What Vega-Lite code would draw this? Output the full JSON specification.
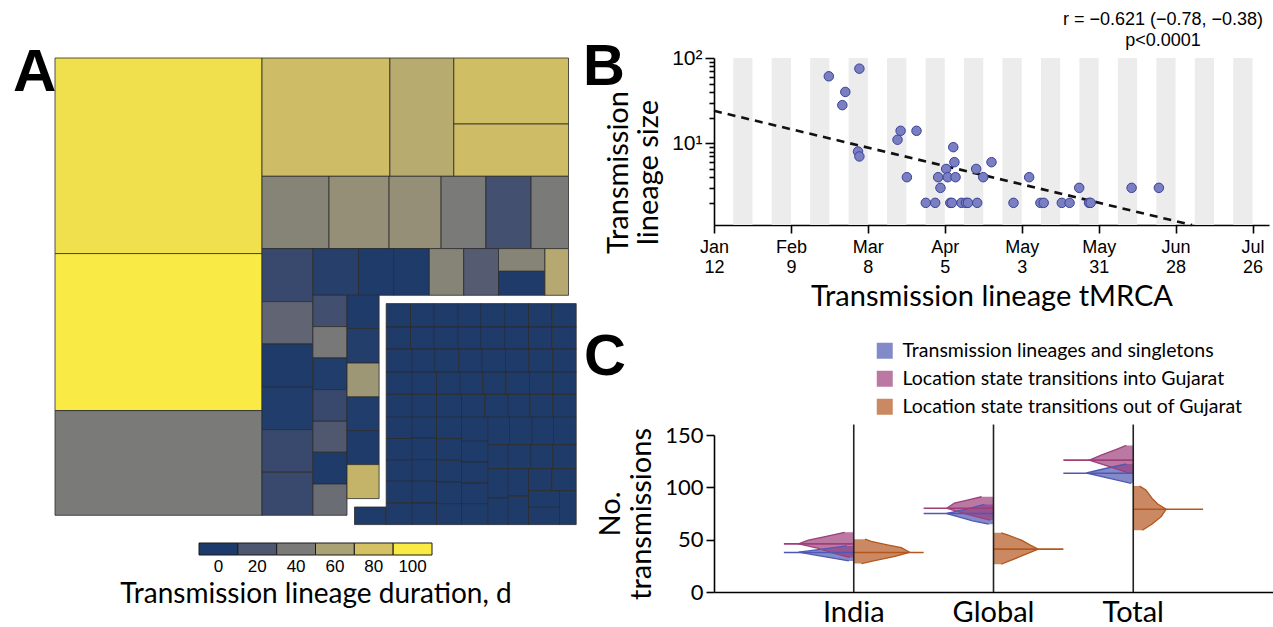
{
  "$schema": "https://vega.github.io/schema/vega-lite/v6.json",
  "background": "white",
  "padding": {"left": 13, "top": 11, "right": 0, "bottom": 0},
  "config": {
    "view": {"stroke": null},
    "font": "Lato",
    "axis": {"domainColor": "#000", "tickColor": "#000", "labelColor": "#000", "titleColor": "#000", "titleFontWeight": "normal", "grid": false, "domainWidth": 1.6, "tickWidth": 1.6},
    "title": {"color": "#000"},
    "legend": {"labelColor": "#000"}
  },
  "datasets": {
    "tm": [
      {"x0":0,"x1":207,"y0":0,"y1":195.6,"d":95},
      {"x0":0,"x1":207,"y0":195.6,"y1":352.6,"d":100},
      {"x0":0,"x1":207,"y0":352.6,"y1":457.3,"d":40},
      {"x0":207,"x1":334.9,"y0":0,"y1":118.3,"d":77},
      {"x0":334.9,"x1":398.8,"y0":0,"y1":118.3,"d":66},
      {"x0":398.8,"x1":513.5,"y0":0,"y1":66,"d":78},
      {"x0":398.8,"x1":513.5,"y0":66,"y1":118.3,"d":77},
      {"x0":207,"x1":274,"y0":118.3,"y1":190.6,"d":45},
      {"x0":274,"x1":334.1,"y0":118.3,"y1":190.6,"d":51},
      {"x0":334.1,"x1":386.1,"y0":118.3,"y1":190.6,"d":51},
      {"x0":386.1,"x1":430.9,"y0":118.3,"y1":190.6,"d":40},
      {"x0":430.9,"x1":476.1,"y0":118.3,"y1":190.6,"d":16},
      {"x0":476.1,"x1":513.5,"y0":118.3,"y1":190.6,"d":40},
      {"x0":207,"x1":257.9,"y0":190.6,"y1":243.6,"d":11},
      {"x0":257.9,"x1":303.5,"y0":190.6,"y1":237.3,"d":4},
      {"x0":303.5,"x1":338.7,"y0":190.6,"y1":237.3,"d":1},
      {"x0":338.7,"x1":374.3,"y0":190.6,"y1":237.3,"d":1},
      {"x0":374.3,"x1":408.7,"y0":190.6,"y1":237.3,"d":45},
      {"x0":408.7,"x1":443.5,"y0":190.6,"y1":237.3,"d":23},
      {"x0":443.5,"x1":489.9,"y0":190.6,"y1":213.3,"d":45},
      {"x0":443.5,"x1":489.9,"y0":213.3,"y1":237.3,"d":1},
      {"x0":489.9,"x1":513.5,"y0":190.6,"y1":237.3,"d":65},
      {"x0":207,"x1":257.9,"y0":243.6,"y1":286,"d":28},
      {"x0":207,"x1":257.9,"y0":286,"y1":329.3,"d":1},
      {"x0":207,"x1":257.9,"y0":329.3,"y1":371.6,"d":2},
      {"x0":207,"x1":257.9,"y0":371.6,"y1":414.3,"d":11},
      {"x0":207,"x1":257.9,"y0":414.3,"y1":457.3,"d":11},
      {"x0":257.9,"x1":292,"y0":237.3,"y1":268.6,"d":15},
      {"x0":257.9,"x1":292,"y0":268.6,"y1":300,"d":39},
      {"x0":257.9,"x1":292,"y0":300,"y1":331.6,"d":2},
      {"x0":257.9,"x1":292,"y0":331.6,"y1":363.3,"d":11},
      {"x0":257.9,"x1":292,"y0":363.3,"y1":394.3,"d":21},
      {"x0":257.9,"x1":292,"y0":394.3,"y1":426,"d":1},
      {"x0":257.9,"x1":292,"y0":426,"y1":457.3,"d":33},
      {"x0":292,"x1":324.1,"y0":237.3,"y1":270.6,"d":1},
      {"x0":292,"x1":324.1,"y0":270.6,"y1":305,"d":3},
      {"x0":292,"x1":324.1,"y0":305,"y1":339,"d":55},
      {"x0":292,"x1":324.1,"y0":339,"y1":372.6,"d":2},
      {"x0":292,"x1":324.1,"y0":372.6,"y1":406.6,"d":1},
      {"x0":292,"x1":324.1,"y0":406.6,"y1":440.6,"d":72},
      {"x0":299.5,"x1":331.2,"y0":449,"y1":466.6,"d":1},
      {"x0":331.2,"x1":355.5,"y0":245.6,"y1":269,"d":1},
      {"x0":355.5,"x1":378.8,"y0":245.6,"y1":269,"d":1},
      {"x0":378.8,"x1":402.8,"y0":245.6,"y1":269,"d":1},
      {"x0":402.8,"x1":426.2,"y0":245.6,"y1":269,"d":1},
      {"x0":426.2,"x1":450.2,"y0":245.6,"y1":269,"d":1},
      {"x0":450.2,"x1":473.5,"y0":245.6,"y1":269,"d":1},
      {"x0":473.5,"x1":497.2,"y0":245.6,"y1":269,"d":1},
      {"x0":497.2,"x1":521.2,"y0":245.6,"y1":269,"d":1},
      {"x0":331.2,"x1":355.5,"y0":269,"y1":291,"d":1},
      {"x0":355.5,"x1":378.8,"y0":269,"y1":291,"d":1},
      {"x0":378.8,"x1":402.8,"y0":269,"y1":291,"d":1},
      {"x0":402.8,"x1":426.2,"y0":269,"y1":291,"d":1},
      {"x0":426.2,"x1":450.2,"y0":269,"y1":291,"d":1},
      {"x0":450.2,"x1":473.5,"y0":269,"y1":291,"d":1},
      {"x0":473.5,"x1":497.2,"y0":269,"y1":291,"d":1},
      {"x0":497.2,"x1":521.2,"y0":269,"y1":291,"d":1},
      {"x0":331.2,"x1":356.8,"y0":291,"y1":314,"d":1},
      {"x0":356.8,"x1":380.2,"y0":291,"y1":314,"d":1},
      {"x0":380.2,"x1":403.8,"y0":291,"y1":314,"d":1},
      {"x0":403.8,"x1":426.8,"y0":291,"y1":314,"d":1},
      {"x0":426.8,"x1":450.5,"y0":291,"y1":314,"d":1},
      {"x0":450.5,"x1":473.8,"y0":291,"y1":314,"d":1},
      {"x0":473.8,"x1":497.8,"y0":291,"y1":314,"d":1},
      {"x0":497.8,"x1":521.2,"y0":291,"y1":314,"d":1},
      {"x0":331.2,"x1":356.8,"y0":314,"y1":336.4,"d":1},
      {"x0":356.8,"x1":381.5,"y0":314,"y1":336.4,"d":1},
      {"x0":381.5,"x1":404.8,"y0":314,"y1":336.4,"d":1},
      {"x0":404.8,"x1":427.8,"y0":314,"y1":336.4,"d":1},
      {"x0":427.8,"x1":451.2,"y0":314,"y1":336.4,"d":1},
      {"x0":451.2,"x1":474.5,"y0":314,"y1":336.4,"d":1},
      {"x0":474.5,"x1":497.8,"y0":314,"y1":336.4,"d":1},
      {"x0":497.8,"x1":521.2,"y0":314,"y1":336.4,"d":1},
      {"x0":331.2,"x1":356.8,"y0":336.4,"y1":359.3,"d":1},
      {"x0":356.8,"x1":381.5,"y0":336.4,"y1":359.3,"d":1},
      {"x0":381.5,"x1":406.5,"y0":336.4,"y1":359.3,"d":1},
      {"x0":406.5,"x1":429.8,"y0":336.4,"y1":359.3,"d":1},
      {"x0":429.8,"x1":452.8,"y0":336.4,"y1":359.3,"d":1},
      {"x0":452.8,"x1":475.2,"y0":336.4,"y1":359.3,"d":1},
      {"x0":475.2,"x1":497.8,"y0":336.4,"y1":359.3,"d":1},
      {"x0":497.8,"x1":521.2,"y0":336.4,"y1":359.3,"d":1},
      {"x0":331.2,"x1":356.8,"y0":359.3,"y1":380.5,"d":1},
      {"x0":331.2,"x1":356.8,"y0":380.5,"y1":401.9,"d":1},
      {"x0":331.2,"x1":356.8,"y0":401.9,"y1":423.3,"d":1},
      {"x0":331.2,"x1":356.8,"y0":423.3,"y1":444.8,"d":1},
      {"x0":331.2,"x1":356.8,"y0":444.8,"y1":466.6,"d":1},
      {"x0":356.8,"x1":381.5,"y0":359.3,"y1":380,"d":1},
      {"x0":356.8,"x1":381.5,"y0":380,"y1":401.6,"d":1},
      {"x0":356.8,"x1":381.5,"y0":401.6,"y1":423.3,"d":1},
      {"x0":356.8,"x1":381.5,"y0":423.3,"y1":445,"d":1},
      {"x0":356.8,"x1":381.5,"y0":445,"y1":466.6,"d":1},
      {"x0":381.5,"x1":406.5,"y0":359.3,"y1":380.6,"d":1},
      {"x0":381.5,"x1":406.5,"y0":380.6,"y1":402.3,"d":1},
      {"x0":381.5,"x1":406.5,"y0":402.3,"y1":424,"d":1},
      {"x0":381.5,"x1":406.5,"y0":424,"y1":445.6,"d":1},
      {"x0":381.5,"x1":406.5,"y0":445.6,"y1":466.6,"d":1},
      {"x0":406.5,"x1":432.8,"y0":359.3,"y1":383.3,"d":1},
      {"x0":406.5,"x1":432.8,"y0":383.3,"y1":404,"d":1},
      {"x0":406.5,"x1":432.8,"y0":404,"y1":425,"d":1},
      {"x0":406.5,"x1":432.8,"y0":425,"y1":445.6,"d":1},
      {"x0":406.5,"x1":432.8,"y0":445.6,"y1":466.6,"d":1},
      {"x0":432.8,"x1":454.5,"y0":359.3,"y1":386.6,"d":1},
      {"x0":454.5,"x1":476.8,"y0":359.3,"y1":386.6,"d":1},
      {"x0":476.8,"x1":498.5,"y0":359.3,"y1":386.6,"d":1},
      {"x0":498.5,"x1":521.2,"y0":359.3,"y1":386.6,"d":1},
      {"x0":432.8,"x1":452.8,"y0":386.6,"y1":410.6,"d":1},
      {"x0":452.8,"x1":476.2,"y0":386.6,"y1":410.6,"d":1},
      {"x0":476.2,"x1":497.8,"y0":386.6,"y1":410.6,"d":1},
      {"x0":497.8,"x1":521.2,"y0":386.6,"y1":410.6,"d":1},
      {"x0":432.8,"x1":452.8,"y0":410.6,"y1":440,"d":1},
      {"x0":432.8,"x1":452.8,"y0":440,"y1":466.6,"d":1},
      {"x0":452.8,"x1":473.5,"y0":410.6,"y1":438.3,"d":1},
      {"x0":452.8,"x1":473.5,"y0":438.3,"y1":466.6,"d":1},
      {"x0":473.5,"x1":497.2,"y0":410.6,"y1":432.6,"d":1},
      {"x0":497.2,"x1":521.2,"y0":410.6,"y1":432.6,"d":1},
      {"x0":473.5,"x1":504.5,"y0":432.6,"y1":449.3,"d":1},
      {"x0":473.5,"x1":504.5,"y0":449.3,"y1":466.6,"d":1},
      {"x0":504.5,"x1":521.2,"y0":432.6,"y1":466.6,"d":1}
    ],
    "bar": [{"d":0},{"d":20},{"d":40},{"d":60},{"d":80},{"d":100}],
    "stripes": [
      {"a":"2020-01-19","b":"2020-01-26"},{"a":"2020-02-02","b":"2020-02-09"},
      {"a":"2020-02-16","b":"2020-02-23"},{"a":"2020-03-01","b":"2020-03-08"},
      {"a":"2020-03-15","b":"2020-03-22"},{"a":"2020-03-29","b":"2020-04-05"},
      {"a":"2020-04-12","b":"2020-04-19"},{"a":"2020-04-26","b":"2020-05-03"},
      {"a":"2020-05-10","b":"2020-05-17"},{"a":"2020-05-24","b":"2020-05-31"},
      {"a":"2020-06-07","b":"2020-06-14"},{"a":"2020-06-21","b":"2020-06-28"},
      {"a":"2020-07-05","b":"2020-07-12"},{"a":"2020-07-19","b":"2020-07-26"}
    ],
    "fit": [{"t":"2020-01-12","v":24},{"t":"2020-07-04","v":1.1}],
    "pts": [
      {"t":"2020-02-22T19:00:00Z","v":61},
      {"t":"2020-03-04T22:00:00Z","v":75},
      {"t":"2020-02-28T19:00:00Z","v":40},
      {"t":"2020-02-27T17:00:00Z","v":28},
      {"t":"2020-03-04T10:00:00Z","v":8},
      {"t":"2020-03-04T22:00:00Z","v":7},
      {"t":"2020-03-18T19:00:00Z","v":11},
      {"t":"2020-03-19T22:00:00Z","v":14},
      {"t":"2020-03-25T17:00:00Z","v":14},
      {"t":"2020-03-22T05:00:00Z","v":4},
      {"t":"2020-03-29T02:00:00Z","v":2},
      {"t":"2020-04-01T12:00:00Z","v":2},
      {"t":"2020-04-02T14:00:00Z","v":4},
      {"t":"2020-04-03T10:00:00Z","v":3},
      {"t":"2020-04-05T12:00:00Z","v":5},
      {"t":"2020-04-06T02:00:00Z","v":4},
      {"t":"2020-04-07T00:00:00Z","v":2},
      {"t":"2020-04-07T14:00:00Z","v":2},
      {"t":"2020-04-08T02:00:00Z","v":9},
      {"t":"2020-04-08T12:00:00Z","v":6},
      {"t":"2020-04-08T22:00:00Z","v":4},
      {"t":"2020-04-11T02:00:00Z","v":2},
      {"t":"2020-04-12T17:00:00Z","v":2},
      {"t":"2020-04-13T10:00:00Z","v":2},
      {"t":"2020-04-16T10:00:00Z","v":5},
      {"t":"2020-04-16T19:00:00Z","v":2},
      {"t":"2020-04-19T00:00:00Z","v":4},
      {"t":"2020-04-22T00:00:00Z","v":6},
      {"t":"2020-04-30T00:00:00Z","v":2},
      {"t":"2020-05-05T17:00:00Z","v":4},
      {"t":"2020-05-09T19:00:00Z","v":2},
      {"t":"2020-05-11T00:00:00Z","v":2},
      {"t":"2020-05-17T14:00:00Z","v":2},
      {"t":"2020-05-20T10:00:00Z","v":2},
      {"t":"2020-05-23T22:00:00Z","v":3},
      {"t":"2020-05-27T12:00:00Z","v":2},
      {"t":"2020-05-28T02:00:00Z","v":2},
      {"t":"2020-06-12T00:00:00Z","v":3},
      {"t":"2020-06-21T22:00:00Z","v":3}
    ],
    "vl": [
      {"c":"India","s":"lin","n":29.7,"w":0.07},{"c":"India","s":"lin","n":33,"w":0.36},{"c":"India","s":"lin","n":35,"w":0.53},{"c":"India","s":"lin","n":38,"w":0.79},{"c":"India","s":"lin","n":41,"w":0.45},{"c":"India","s":"lin","n":44,"w":0.1},
      {"c":"India","s":"in","n":33,"w":0.06},{"c":"India","s":"in","n":37,"w":0.28},{"c":"India","s":"in","n":42,"w":0.52},{"c":"India","s":"in","n":46,"w":0.79},{"c":"India","s":"in","n":49.5,"w":0.65},{"c":"India","s":"in","n":53,"w":0.41},{"c":"India","s":"in","n":57,"w":0.13},
      {"c":"Global","s":"lin","n":64.8,"w":0.07},{"c":"Global","s":"lin","n":68,"w":0.3},{"c":"Global","s":"lin","n":71.8,"w":0.5},{"c":"Global","s":"lin","n":75,"w":0.67},{"c":"Global","s":"lin","n":79,"w":0.4},{"c":"Global","s":"lin","n":83.7,"w":0.13},
      {"c":"Global","s":"in","n":68.7,"w":0.05},{"c":"Global","s":"in","n":74,"w":0.36},{"c":"Global","s":"in","n":80,"w":0.67},{"c":"Global","s":"in","n":85,"w":0.56},{"c":"Global","s":"in","n":88,"w":0.36},{"c":"Global","s":"in","n":91,"w":0.17},
      {"c":"Total","s":"lin","n":103.8,"w":0.03},{"c":"Total","s":"lin","n":108.6,"w":0.34},{"c":"Total","s":"lin","n":113.7,"w":0.67},{"c":"Total","s":"lin","n":118,"w":0.4},{"c":"Total","s":"lin","n":122.3,"w":0.1},
      {"c":"Total","s":"in","n":113.4,"w":0.05},{"c":"Total","s":"in","n":120,"w":0.35},{"c":"Total","s":"in","n":126,"w":0.63},{"c":"Total","s":"in","n":131,"w":0.45},{"c":"Total","s":"in","n":136,"w":0.25},{"c":"Total","s":"in","n":140,"w":0.1}
    ],
    "vr": [
      {"c":"India","s":"out","n":27.2,"w":0.11},{"c":"India","s":"out","n":30,"w":0.3},{"c":"India","s":"out","n":34,"w":0.59},{"c":"India","s":"out","n":38,"w":0.8},{"c":"India","s":"out","n":42.4,"w":0.68},{"c":"India","s":"out","n":45,"w":0.48},{"c":"India","s":"out","n":48.3,"w":0.25},{"c":"India","s":"out","n":50.5,"w":0.16},
      {"c":"Global","s":"out","n":26.5,"w":0.11},{"c":"Global","s":"out","n":33,"w":0.35},{"c":"Global","s":"out","n":41,"w":0.64},{"c":"Global","s":"out","n":45,"w":0.52},{"c":"Global","s":"out","n":49.5,"w":0.4},{"c":"Global","s":"out","n":54.3,"w":0.21},{"c":"Global","s":"out","n":56.5,"w":0.11},
      {"c":"Total","s":"out","n":59,"w":0.13},{"c":"Total","s":"out","n":65,"w":0.27},{"c":"Total","s":"out","n":72,"w":0.4},{"c":"Total","s":"out","n":79,"w":0.47},{"c":"Total","s":"out","n":84,"w":0.35},{"c":"Total","s":"out","n":89.4,"w":0.27},{"c":"Total","s":"out","n":97.4,"w":0.18},{"c":"Total","s":"out","n":101.2,"w":0.09}
    ],
    "ml": [
      {"c":"India","s":"lin","n":37.7},{"c":"India","s":"in","n":46},
      {"c":"Global","s":"lin","n":75},{"c":"Global","s":"in","n":80},
      {"c":"Total","s":"lin","n":113.5},{"c":"Total","s":"in","n":126}
    ],
    "mr": [
      {"c":"India","s":"out","n":37.7},{"c":"Global","s":"out","n":41},{"c":"Total","s":"out","n":79}
    ],
    "cats": [{"c":"India"},{"c":"Global"},{"c":"Total"}]
  },
  "title": {"text": "r = \u22120.621 (\u22120.78, \u22120.38)", "subtitle": "p<0.0001", "anchor": "end", "align": "center", "frame": "bounds", "font": "Liberation Sans", "fontSize": 18, "fontWeight": "normal", "subtitleFont": "Liberation Sans", "subtitleFontSize": 18, "subtitleColor": "#000", "subtitlePadding": 3, "offset": -11, "dx": -110},
  "resolve": {"scale": {"color": "independent"}, "legend": {"color": "independent"}},
  "spacing": 6,
  "hconcat": [
    {
      "title": {"text": "A", "anchor": "start", "frame": "group", "font": "Liberation Sans", "fontSize": 60, "fontWeight": "bold", "baseline": "alphabetic", "offset": -93, "dx": -42},
      "bounds": "flush",
      "spacing": 18,
      "center": true,
      "vconcat": [
        {
          "width": 521,
          "height": 467,
          "data": {"name": "tm"},
          "mark": {"type": "rect", "stroke": "#2b2b2b", "strokeWidth": 0.8},
          "encoding": {
            "x": {"field": "x0", "type": "quantitative", "scale": {"domain": [0, 521], "nice": false, "zero": false}, "axis": null},
            "x2": {"field": "x1"},
            "y": {"field": "y0", "type": "quantitative", "scale": {"domain": [0, 467], "nice": false, "reverse": true}, "axis": null},
            "y2": {"field": "y1"},
            "fill": {"field": "d", "type": "quantitative", "scale": {"domain": [0, 20, 40, 60, 80, 100], "range": ["#1c3a6a", "#4e5670", "#7a7a78", "#aaa175", "#d4c163", "#f9ea45"], "interpolate": "rgb"}, "legend": null}
          }
        },
        {
          "width": 233,
          "height": 12,
          "data": {"name": "bar"},
          "mark": {"type": "rect", "stroke": "#1a1a1a", "strokeWidth": 1},
          "encoding": {
            "x": {"field": "d", "type": "ordinal", "scale": {"paddingInner": 0, "paddingOuter": 0}, "axis": {"title": "Transmission lineage duration, d", "titleFont": "Lato", "titleFontSize": 28, "titlePadding": 6, "labelFont": "Liberation Sans", "labelFontSize": 17, "labelAngle": 0, "ticks": false, "domain": false, "labelPadding": 3}},
            "fill": {"field": "d", "type": "quantitative", "scale": {"domain": [0, 20, 40, 60, 80, 100], "range": ["#1c3a6a", "#4e5670", "#7a7a78", "#aaa175", "#d4c163", "#f9ea45"], "interpolate": "rgb"}, "legend": null}
          }
        }
      ]
    },
    {
      "bounds": "flush",
      "spacing": 210,
      "resolve": {"scale": {"color": "independent"}, "legend": {"color": "independent"}},
      "vconcat": [
        {
          "width": 555,
          "height": 167,
          "title": {"text": "B", "anchor": "start", "frame": "group", "font": "Liberation Sans", "fontSize": 58, "fontWeight": "bold", "baseline": "alphabetic", "offset": -96, "dx": -131},
          "layer": [
            {
              "data": {"name": "stripes"},
              "mark": {"type": "rect", "color": "#ececec"},
              "encoding": {
                "x": {"field": "a", "type": "temporal", "scale": {"type": "utc", "domain": [{"year": 2020, "month": 1, "date": 12, "utc": true}, {"year": 2020, "month": 8, "date": 1, "utc": true}], "nice": false},
                  "axis": {
                    "values": [
                      {"year": 2020, "month": 1, "date": 12, "utc": true}, {"year": 2020, "month": 1, "date": 26, "utc": true},
                      {"year": 2020, "month": 2, "date": 9, "utc": true}, {"year": 2020, "month": 2, "date": 23, "utc": true},
                      {"year": 2020, "month": 3, "date": 8, "utc": true}, {"year": 2020, "month": 3, "date": 22, "utc": true},
                      {"year": 2020, "month": 4, "date": 5, "utc": true}, {"year": 2020, "month": 4, "date": 19, "utc": true},
                      {"year": 2020, "month": 5, "date": 3, "utc": true}, {"year": 2020, "month": 5, "date": 17, "utc": true},
                      {"year": 2020, "month": 5, "date": 31, "utc": true}, {"year": 2020, "month": 6, "date": 14, "utc": true},
                      {"year": 2020, "month": 6, "date": 28, "utc": true}, {"year": 2020, "month": 7, "date": 12, "utc": true},
                      {"year": 2020, "month": 7, "date": 26, "utc": true}
                    ],
                    "labelExpr": "[utcFormat(datum.value, '%b'), utcFormat(datum.value, '%-d')]",
                    "labelFont": "Liberation Sans", "labelFontSize": 18, "labelLineHeight": 20, "labelPadding": 5,
                    "labelOverlap": false, "labelFlush": false, "labelBound": false,
                    "tickSize": 8,
                    "title": "Transmission lineage tMRCA", "titleFont": "Lato", "titleFontSize": 29, "titlePadding": 6
                  }
                },
                "x2": {"field": "b"}
              }
            },
            {
              "data": {"name": "fit"},
              "mark": {"type": "line", "color": "#111111", "strokeDash": [8, 6], "strokeWidth": 2.6},
              "encoding": {
                "x": {"field": "t", "type": "temporal"},
                "y": {"field": "v", "type": "quantitative", "scale": {"type": "log", "domain": [1.1, 100], "nice": false},
                  "axis": {
                    "values": [2, 3, 4, 5, 6, 7, 8, 9, 10, 20, 30, 40, 50, 60, 70, 80, 90, 100],
                    "labelExpr": "datum.value == 100 ? '10\u00b2' : datum.value == 10 ? '10\u00b9' : ''",
                    "tickSize": {"condition": {"test": "datum.value == 10 || datum.value == 100", "value": 9}, "value": 5},
                    "labelFont": "Liberation Sans", "labelFontSize": 21, "labelPadding": 3, "labelOverlap": false,
                    "title": ["Transmission", "lineage size"], "titleFont": "Lato", "titleFontSize": 29, "titleLineHeight": 30, "titlePadding": 8, "titleY": 114
                  }
                }
              }
            },
            {
              "data": {"name": "pts"},
              "mark": {"type": "point", "filled": true, "fill": "#7a7fc1", "stroke": "#3b429a", "strokeWidth": 1, "size": 90, "opacity": 1, "fillOpacity": 1},
              "encoding": {
                "x": {"field": "t", "type": "temporal"},
                "y": {"field": "v", "type": "quantitative"}
              }
            }
          ]
        },
        {
          "width": 559,
          "height": 157,
          "title": {"text": "C", "anchor": "start", "frame": "group", "font": "Liberation Sans", "fontSize": 58, "fontWeight": "bold", "baseline": "alphabetic", "offset": -92, "dx": -130},
          "resolve": {"scale": {"xOffset": "independent"}},
          "layer": [
            {
              "data": {"name": "vl"},
              "encoding": {
                "x": {"field": "c", "type": "nominal", "scale": {"domain": ["India", "Global", "Total"], "paddingInner": 0, "paddingOuter": 0.5},
                  "axis": {"title": null, "ticks": false, "labelAngle": 0, "labelFont": "Lato", "labelFontSize": 29, "labelPadding": 6}},
                "xOffset": {"field": "w", "type": "quantitative", "scale": {"domain": [0, 1], "range": [69.9, 0]}},
                "y": {"field": "n", "type": "quantitative", "stack": null, "scale": {"domain": [0, 150], "nice": false},
                  "axis": {"values": [0, 50, 100, 150], "labelFont": "Lato", "labelFontSize": 22, "tickSize": 8, "labelPadding": 3,
                    "title": ["No.", "transmissions"], "titleFont": "Lato", "titleFontSize": 29, "titleLineHeight": 31, "titlePadding": 8}},
                "color": {"field": "s", "type": "nominal", "scale": {"domain": ["lin", "in", "out"], "range": ["#4f58b2", "#9e3f7a", "#b3571f"]},
                  "legend": {"orient": "none", "legendX": 161, "legendY": -94, "title": null, "padding": 0, "symbolType": "square", "symbolSize": 256, "symbolOpacity": 0.7, "symbolStrokeWidth": 0, "labelFont": "Lato", "labelFontSize": 19.5, "labelOffset": 8, "rowPadding": 7, "labelLimit": 0,
                    "labelExpr": "datum.value == 'lin' ? 'Transmission lineages and singletons' : datum.value == 'in' ? 'Location state transitions into Gujarat' : 'Location state transitions out of Gujarat'"}},
                "detail": {"field": "c"}
              },
              "layer": [
                {"mark": {"type": "area", "orient": "horizontal", "fillOpacity": 0.7}, "encoding": {"x2": {"field": "c", "bandPosition": 0.5}}},
                {"mark": {"type": "line", "strokeWidth": 1.3}, "encoding": {"order": {"field": "n", "type": "quantitative"}}}
              ]
            },
            {
              "data": {"name": "vr"},
              "encoding": {
                "x": {"field": "c", "type": "nominal"},
                "xOffset": {"field": "w", "type": "quantitative", "scale": {"domain": [0, 1], "range": [69.9, 139.8]}},
                "y": {"field": "n", "type": "quantitative", "stack": null},
                "color": {"field": "s", "type": "nominal"},
                "detail": {"field": "c"}
              },
              "layer": [
                {"mark": {"type": "area", "orient": "horizontal", "fillOpacity": 0.7}, "encoding": {"x2": {"field": "c", "bandPosition": 0.5}}},
                {"mark": {"type": "line", "strokeWidth": 1.3}, "encoding": {"order": {"field": "n", "type": "quantitative"}}}
              ]
            },
            {
              "data": {"name": "ml"},
              "mark": {"type": "rule", "strokeWidth": 1.6},
              "encoding": {
                "x": {"field": "c", "type": "nominal", "bandPosition": 0},
                "x2": {"field": "c", "bandPosition": 0.5},
                "y": {"field": "n", "type": "quantitative"},
                "color": {"field": "s", "type": "nominal"}
              }
            },
            {
              "data": {"name": "mr"},
              "mark": {"type": "rule", "strokeWidth": 1.6},
              "encoding": {
                "x": {"field": "c", "type": "nominal", "bandPosition": 0.5},
                "x2": {"field": "c", "bandPosition": 1},
                "y": {"field": "n", "type": "quantitative"},
                "color": {"field": "s", "type": "nominal"}
              }
            },
            {
              "data": {"name": "cats"},
              "mark": {"type": "rule", "color": "#222222", "strokeWidth": 1.6},
              "encoding": {
                "x": {"field": "c", "type": "nominal", "bandPosition": 0.5},
                "y": {"datum": 0},
                "y2": {"datum": 160}
              }
            }
          ]
        }
      ]
    }
  ]
}
